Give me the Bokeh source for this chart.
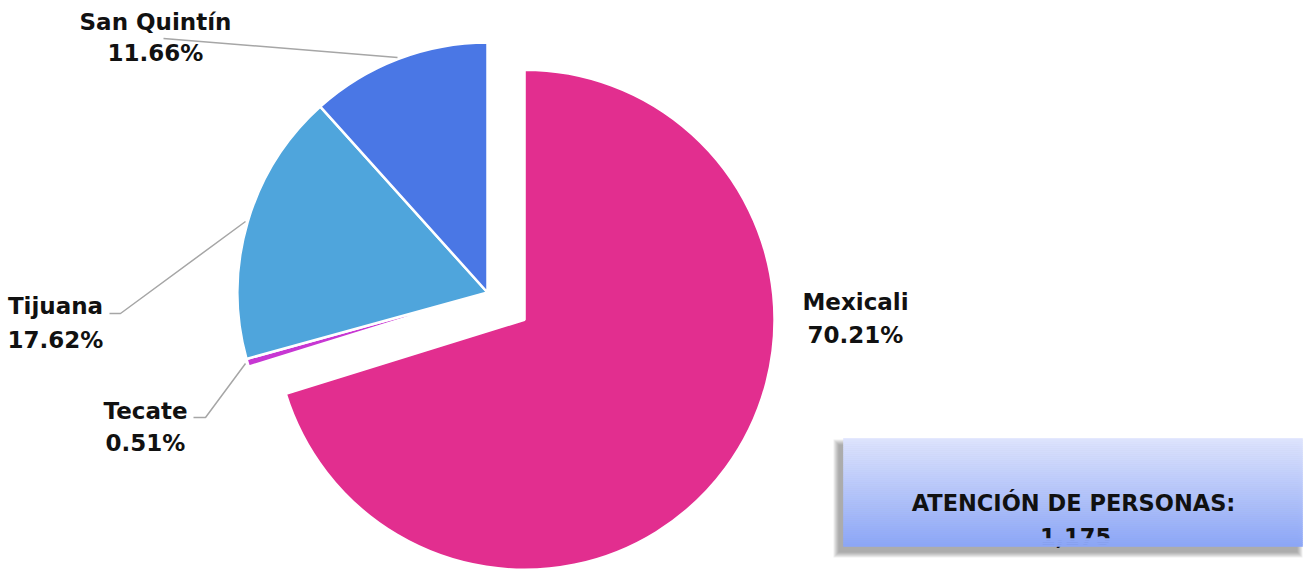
import numpy as np
from bokeh.plotting import figure
from bokeh.models import Range1d, ColumnDataSource
from bokeh.core.properties import value
from bokeh.embed import file_html
from bokeh.resources import INLINE

# ---- data ----
names = ["Mexicali", "Tecate", "Tijuana", "San Quintín"]
percent = [70.21, 0.51, 17.62, 11.66]
colors = ["#E22E8F", "#C737D3", "#4FA5DC", "#4A77E5"]
explode = [46, 0, 0, 0]
box_title = "ATENCIÓN DE PERSONAS:"
total = 1175

W, H = 1308, 570
def X(sx):  # picture px -> data
    return sx
def Y(sy):
    return H - sy

p = figure(width=W, height=H, x_range=Range1d(0, W), y_range=Range1d(0, H),
           output_backend="svg", toolbar_location=None,
           x_axis_type=None, y_axis_type=None, min_border=0)
p.outline_line_color = None
p.xgrid.visible = False
p.ygrid.visible = False
p.background_fill_color = "white"

# ---- pie ----
cx, cy, R = X(487), Y(292), 250
vals = np.array(percent)
c1 = np.cumsum(vals) / vals.sum()
c0 = c1 - vals / vals.sum()
start = np.pi / 2 - 2 * np.pi * c1
end = np.pi / 2 - 2 * np.pi * c0
mid = np.pi * (c0 + c1)
xs = cx + np.array(explode) * np.sin(mid)
ys = cy + np.array(explode) * np.cos(mid)
src = ColumnDataSource(dict(x=xs, y=ys, s=start, e=end, c=colors))
p.wedge(x="x", y="y", radius=R, start_angle="s", end_angle="e", direction="anticlock",
        fill_color="c", line_color="white", line_width=2.5, source=src)

# ---- leader lines ----
leaders_x = [[X(163), X(397)], [X(245), X(120), X(109)], [X(245), X(205), X(193)]]
leaders_y = [[Y(38), Y(57)], [Y(221), Y(313), Y(313)], [Y(363), Y(417), Y(417)]]
p.multi_line(xs=leaders_x, ys=leaders_y, line_color="#A6A6A6", line_width=1.5)

# ---- labels ----
lab_x = [X(855), X(145), X(55), X(155)]
lab_y1 = [Y(301), Y(410), Y(305), Y(21)]
lab_y2 = [Y(334), Y(442), Y(339), Y(52)]
pct_txt = [f"{v:.2f}%" for v in percent]
font = value("DejaVu Sans")
p.text(x=lab_x, y=lab_y1, text=names, text_font=font, text_font_style="bold",
       text_font_size="23px", text_align="center", text_baseline="middle", text_color="#111111")
p.text(x=lab_x, y=lab_y2, text=pct_txt, text_font=font, text_font_style="bold",
       text_font_size="23px", text_align="center", text_baseline="middle", text_color="#111111")

# ---- box with shadow and gradient ----
bl, br, bt, bb = 843, 1302, 438, 546
for k in range(6):
    p.quad(left=X(bl - 5 - k), right=X(br - 5 + k), top=Y(bt + 6 - k), bottom=Y(bb + 6 + k),
           fill_color="#404040", fill_alpha=0.09, line_color=None)

top_rgb = np.array([0xDD, 0xE3, 0xFD])
bot_rgb = np.array([0x8A, 0xA5, 0xF7])
def hexc(t):
    c = top_rgb + (bot_rgb - top_rgb) * t
    return "#%02x%02x%02x" % tuple(int(round(v)) for v in c)

clip_y = 537
step = 2
rows = np.arange(bt, bb, step)
main = [r for r in rows if r < clip_y]
low = [r for r in rows if r >= clip_y]
p.quad(left=X(bl), right=X(br), top=[Y(r) for r in main], bottom=[Y(min(r + step, bb)) for r in main],
       fill_color=[hexc((r - bt) / (bb - bt)) for r in main], line_color=[hexc((r - bt) / (bb - bt)) for r in main],
       line_width=0.6)
p.text(x=[X(1073)], y=[Y(502)], text=[box_title], text_font=font, text_font_style="bold",
       text_font_size="22.5px", text_align="center", text_baseline="middle", text_color="#111111")
p.text(x=[X(1075)], y=[Y(536)], text=[f"{total:,}"], text_font=font, text_font_style="bold",
       text_font_size="22.5px", text_align="center", text_baseline="middle", text_color="#111111")
p.quad(left=X(bl), right=X(br), top=[Y(r) for r in low], bottom=[Y(min(r + step, bb)) for r in low],
       fill_color=[hexc((r - bt) / (bb - bt)) for r in low], line_color=[hexc((r - bt) / (bb - bt)) for r in low],
       line_width=0.6)

open("out.html", "w").write(file_html(p, INLINE))
